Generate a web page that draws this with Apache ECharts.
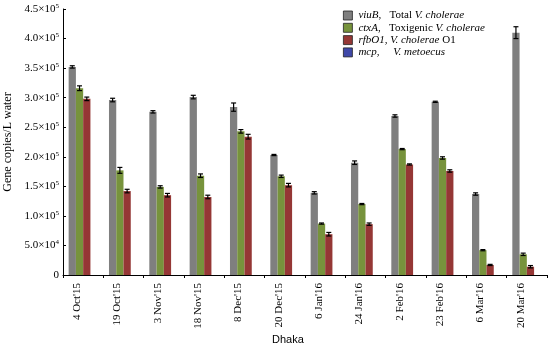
<!DOCTYPE html>
<html><head><meta charset="utf-8">
<script src="https://cdn.jsdelivr.net/npm/echarts@6/dist/echarts.min.js"></script>
<style>html,body{margin:0;padding:0;background:#fff}#c{width:550px;height:352px}</style>
</head><body><div id="c"></div>
<script>
const categories = ["4 Oct'15","19 Oct'15","3 Nov'15","18 Nov'15","8 Dec'15","20 Dec'15","6 Jan'16","24 Jan'16","2 Feb'16","23 Feb'16","6 Mar'16","20 Mar'16"];
const viuB = [352000,296000,276000,301000,284000,203000,139000,190000,269000,293000,137000,410000];
const ctxA = [316000,177000,149000,168000,243000,167000,87000,120000,213000,198000,42000,35000];
const rfbO1 = [298000,142000,135000,132000,234000,152000,69000,86000,187000,176000,17000,14000];
const mcp = [0,0,0,0,0,0,0,0,0,0,0,0];
const viuBErr = [2000,3000,2000,3000,7000,1000,2000,3000,2000,1000,2000,10000];
const ctxAErr = [4000,5000,2000,3000,3000,2000,1000,1000,1000,2000,1000,2000];
const rfbO1Err = [3000,3000,3000,3000,4000,3000,3000,2000,1000,2000,1000,2000];
const yTicks = [0,50000,100000,150000,200000,250000,300000,350000,400000,450000];

const serif = "'Liberation Serif','Times New Roman',serif";
const colors = ['#7f7f7f','#77933c','#953735','#3f48a8'];
const names = ['viuB','ctxA','rfbO1','mcp'];
const BW = 0.18;

function errSeries(idx, vals, errs){
  return {
    type:'custom', silent:true, z:5,
    data: vals.map((v,i)=>[i, v, errs[i]]),
    renderItem: function(params, api){
      const c = api.value(0), v = api.value(1), e = api.value(2);
      const band = api.size([1,0])[0];
      const w = band*BW;
      const cx = api.coord([c, v])[0] + (idx-1.5)*w;
      const yh = api.coord([c, v+e])[1], yl = api.coord([c, v-e])[1];
      const hw = 2.5;
      const st = {stroke:'#000', lineWidth:1.2};
      return {type:'group', children:[
        {type:'line', shape:{x1:cx,y1:yh,x2:cx,y2:yl}, style:st},
        {type:'line', shape:{x1:cx-hw,y1:yh,x2:cx+hw,y2:yh}, style:st},
        {type:'line', shape:{x1:cx-hw,y1:yl,x2:cx+hw,y2:yl}, style:st}
      ]};
    }
  };
}

const legendText = {
  viuB: '{i|viuB},   Total {i|V. cholerae}',
  ctxA: '{i|ctxA},   Toxigenic {i|V. cholerae}',
  rfbO1: '{i|rfbO1}, {i|V. cholerae} O1',
  mcp: '{i|mcp},     {i|V. metoecus}'
};

const chart = echarts.init(document.getElementById('c'));
chart.setOption({
  backgroundColor:'#fff',
  animation:false,
  grid:{left:63, right:3, top:9, bottom:77, containLabel:false, outerBoundsMode:'none'},
  legend:{
    data:names, left:338, top:5, orient:'vertical', itemWidth:9, itemHeight:9, itemGap:1.3,
    icon:'rect',
    itemStyle:{borderColor:'#222', borderWidth:0.8},
    formatter: n => legendText[n],
    textStyle:{fontFamily:serif, fontSize:11, color:'#000', padding:[0,0,0,1],
      rich:{i:{fontStyle:'italic', fontFamily:serif, fontSize:11, color:'#000'}}}
  },
  xAxis:{
    type:'category', data:categories,
    axisLine:{lineStyle:{color:'#000', width:1}},
    axisTick:{show:true, length:3, lineStyle:{color:'#000'}},
    axisLabel:{rotate:90, interval:0, margin:8, fontFamily:serif, fontSize:11, color:'#000',
      formatter: v => v + '\n{g|}', rich:{g:{lineHeight:12, fontSize:11}}}
  },
  yAxis:{
    type:'value', min:0, max:450000, interval:50000,
    name:'Gene copies/L water', nameLocation:'middle', nameGap:48,
    nameTextStyle:{fontFamily:serif, fontSize:12, color:'#000'},
    splitLine:{show:false},
    axisLine:{show:true, lineStyle:{color:'#000', width:1}},
    axisTick:{show:true, inside:true, length:3, lineStyle:{color:'#000'}},
    axisLabel:{
      fontFamily:serif, fontSize:11, color:'#000', margin:4,
      formatter: function(v){
        if (v===0) return '0';
        const e = Math.floor(Math.log10(v));
        const m = (v/Math.pow(10,e)).toFixed(1);
        return m + '×10{s|' + e + '}';
      },
      rich:{s:{fontSize:7, verticalAlign:'top', padding:[0,0,6,0], fontFamily:serif, color:'#000'}}
    }
  },
  graphic:[{type:'text', left:272, top:334, style:{text:'Dhaka', font:"11px 'Liberation Sans', Arial, sans-serif", fill:'#000'}}],
  series:[
    {name:'viuB', type:'bar', data:viuB, barWidth:(BW*100)+'%', barGap:'0%', itemStyle:{color:colors[0]}},
    {name:'ctxA', type:'bar', data:ctxA, barWidth:(BW*100)+'%', barGap:'0%', itemStyle:{color:colors[1]}},
    {name:'rfbO1', type:'bar', data:rfbO1, barWidth:(BW*100)+'%', barGap:'0%', itemStyle:{color:colors[2]}},
    {name:'mcp', type:'bar', data:mcp, barWidth:(BW*100)+'%', barGap:'0%', itemStyle:{color:colors[3]}},
    errSeries(0, viuB, viuBErr),
    errSeries(1, ctxA, ctxAErr),
    errSeries(2, rfbO1, rfbO1Err)
  ]
});
</script></body></html>
